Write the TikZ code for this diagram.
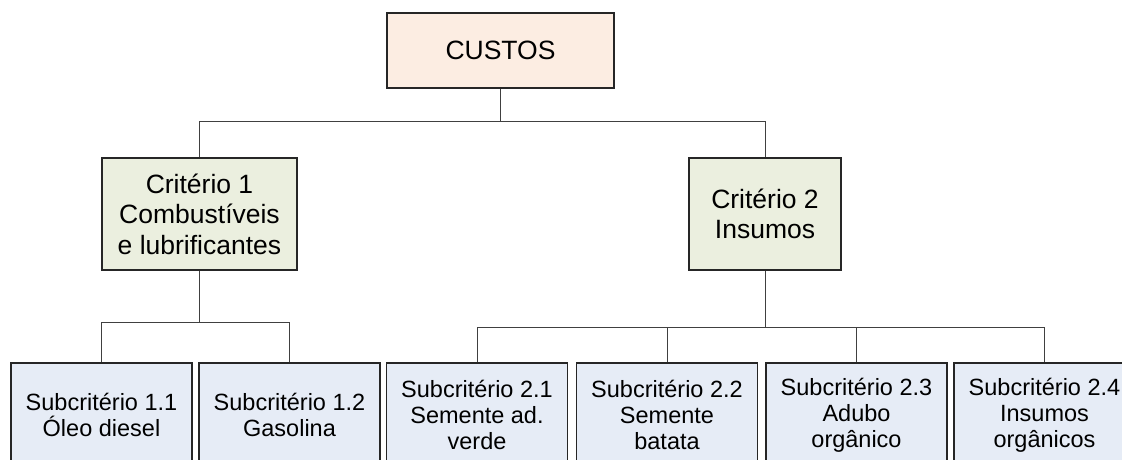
\documentclass[tikz,border=0pt]{standalone}
\usepackage{fontspec}
\setmainfont{Liberation Sans}
\begin{document}
\begin{tikzpicture}[x=1pt,y=-1pt,
  box/.style={draw=black!85,line width=1.1pt,inner sep=0pt,align=center},
  rootbox/.style={box,fill=rootfill,minimum width=227pt,minimum height=75pt,
    font=\fontsize{26.5}{30.5}\selectfont},
  critbox/.style={box,fill=critfill,minimum height=112pt,
    font=\fontsize{26.5}{30.5}\selectfont},
  subbox/.style={box,fill=subfill,minimum width=181pt,minimum height=104pt,
    font=\fontsize{23.5}{26}\selectfont},
  link/.style={draw=black!75,line width=0.9pt}]
\definecolor{rootfill}{RGB}{252,237,226}
\definecolor{critfill}{RGB}{235,239,223}
\definecolor{subfill}{RGB}{230,236,246}
\useasboundingbox (0,0) rectangle (1122,459);
\clip (0,0) rectangle (1122,459);

% root
\node[rootbox] (custos) at (500.5,50.5) {CUSTOS};

% criteria
\node[critbox,minimum width=195pt] (c1) at (199.5,214) {Critério 1\\Combustíveis\\e lubrificantes};
\node[critbox,minimum width=152pt] (c2) at (765,214) {Critério 2\\Insumos};

% sub-criteria
\node[subbox] (s11) at (101.5,415) {Subcritério 1.1\\Óleo diesel};
\node[subbox] (s12) at (289.5,415) {Subcritério 1.2\\Gasolina};
\node[subbox] (s21) at (477,415) {Subcritério 2.1\\Semente ad.\\verde};
\node[subbox] (s22) at (667,415) {Subcritério 2.2\\Semente\\batata};
\node[subbox] (s23) at (856.5,415) {Subcritério 2.3\\Adubo\\orgânico};
\node[subbox] (s24) at (1044.5,415) {Subcritério 2.4\\Insumos\\orgânicos};

% junctions
\coordinate (j0) at (500.5,121);
\coordinate (j1) at (199.5,322);
\coordinate (j2) at (765,327);

% connectors
\draw[link] (custos.south) -- (j0);
\draw[link] (j0) -| (c1.north);
\draw[link] (j0) -| (c2.north);
\draw[link] (c1.south) -- (j1);
\draw[link] (j1) -| (s11.north);
\draw[link] (j1) -| (s12.north);
\draw[link] (c2.south) -- (j2);
\draw[link] (j2) -| (s21.north);
\draw[link] (j2) -| (s22.north);
\draw[link] (j2) -| (s23.north);
\draw[link] (j2) -| (s24.north);
\end{tikzpicture}
\end{document}
